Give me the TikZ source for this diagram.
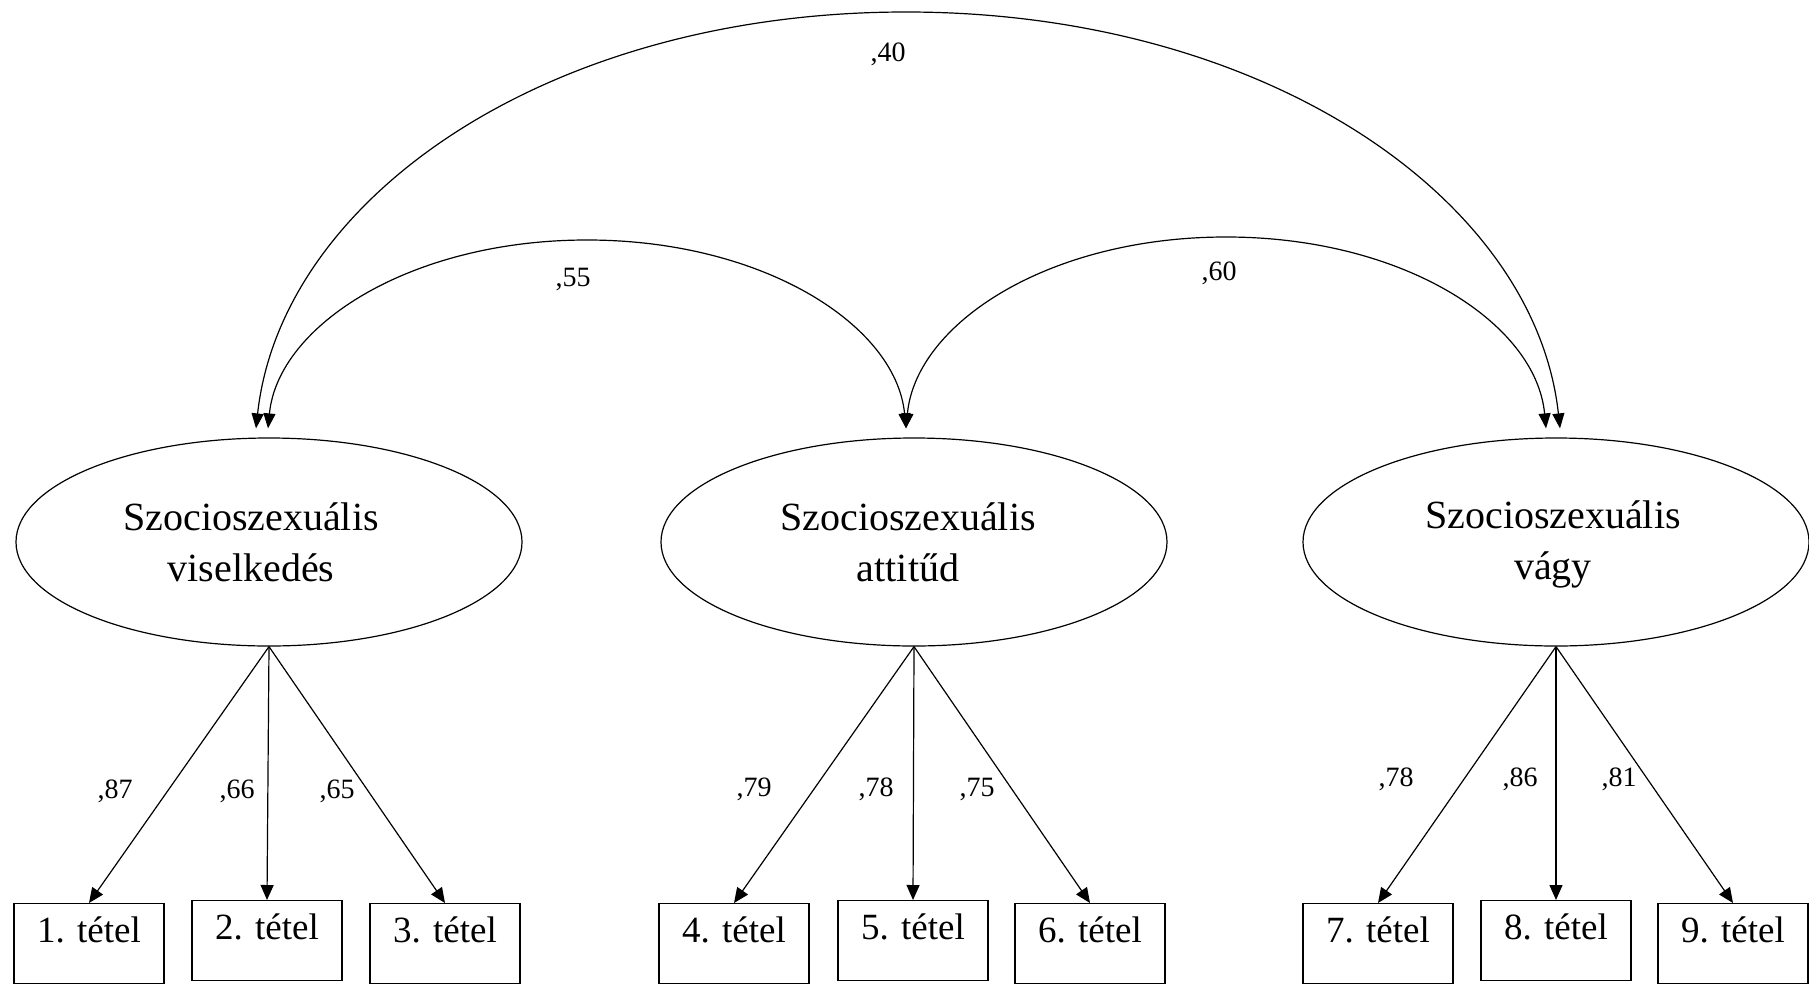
\documentclass[tikz,border=0pt]{standalone}
\usepackage{fontspec}
\setmainfont{Liberation Serif}
\usetikzlibrary{arrows.meta,calc,shapes.geometric}
\begin{document}
\begin{tikzpicture}[x=1pt,y=-1pt,
  lat/.style={draw, ellipse, line width=1.2pt, minimum width=506pt, minimum height=208pt, inner sep=0pt},
  lattext/.style={inner sep=0pt, align=center, font=\fontsize{40}{51}\selectfont},
  obs/.style={draw, rectangle, line width=1.2pt, minimum width=150pt, inner xsep=0pt, inner ysep=0pt, text height=39pt, text depth=41pt, anchor=north, font=\fontsize{37}{44}\selectfont},
  load/.style={-{Triangle[length=15pt,width=13pt]}, line width=1.2pt},
  corr/.style={{Triangle[length=15pt,width=12pt]}-{Triangle[length=15pt,width=12pt]}, line width=1.2pt},
  lbl/.style={font=\fontsize{28}{30}\selectfont, inner sep=0pt}]
\fill[white] (0,0) rectangle (1809,985);
\useasboundingbox (0,0) rectangle (1809,985);

% latent variables
\node[lat] (L1) at (269,542) {};
\node[lat] (L2) at (914,542) {};
\node[lat] (L3) at (1556,542) {};
\node[lattext] (T1) at ($(L1)+(-18,0)$) {Szocioszexuális\\viselkedés};
\node[lattext] (T2) at ($(L2)+(-6,0)$) {Szocioszexuális\\attitűd};
\node[lattext] (T3) at ($(L3)+(-3,2)$) {Szocioszexuális\\vágy};

% observed items
\node[obs] (B1) at (89,903) {1. tétel};
\node[obs] (B2) at (267,900) {2. tétel};
\node[obs] (B3) at (445,903) {3. tétel};
\node[obs] (B4) at (734,903) {4. tétel};
\node[obs] (B5) at (913,900) {5. tétel};
\node[obs] (B6) at (1090,903) {6. tétel};
\node[obs] (B7) at (1378,903) {7. tétel};
\node[obs] (B8) at (1556,900) {8. tétel};
\node[obs] (B9) at (1733,903) {9. tétel};

% loadings
\foreach \l/\b in {L1/B1,L1/B2,L1/B3,L2/B4,L2/B5,L2/B6,L3/B7,L3/B8,L3/B9}
  \draw[load] (\l.south) -- (\b.north);

\node[lbl] (k1) at (115,791) {,87};
\node[lbl] (k2) at (237,791) {,66};
\node[lbl] (k3) at (337,791) {,65};
\node[lbl] (k4) at (754,789) {,79};
\node[lbl] (k5) at (876,789) {,78};
\node[lbl] (k6) at (977,789) {,75};
\node[lbl] (k7) at (1396,779) {,78};
\node[lbl] (k8) at (1520,779) {,86};
\node[lbl] (k9) at (1619,779) {,81};

% correlation arrow ends
\coordinate (t1a) at ($(L1.north)+(-13,-9)$);
\coordinate (t1b) at ($(L1.north)+(-1,-9)$);
\coordinate (t2) at ($(L2.north)+(-8,-9)$);
\coordinate (t3a) at ($(L3.north)+(-10,-9)$);
\coordinate (t3b) at ($(L3.north)+(4,-9)$);

% correlations
\draw[corr] (t1a) .. controls (281,199) and (546,12) .. (906,12)
                  .. controls (1266,12) and (1535,199) .. (t3b);
\draw[corr] (t1b) .. controls (278,325) and (411,240) .. (587,240)
                  .. controls (763,240) and (896,325) .. (t2);
\draw[corr] (t2) .. controls (916,323) and (1049,237) .. (1226,237)
                 .. controls (1403,237) and (1536,323) .. (t3a);

\node[lbl] (c40) at (888,54) {,40};
\node[lbl] (c55) at (573,279) {,55};
\node[lbl] (c60) at (1219,273) {,60};
\end{tikzpicture}
\end{document}
